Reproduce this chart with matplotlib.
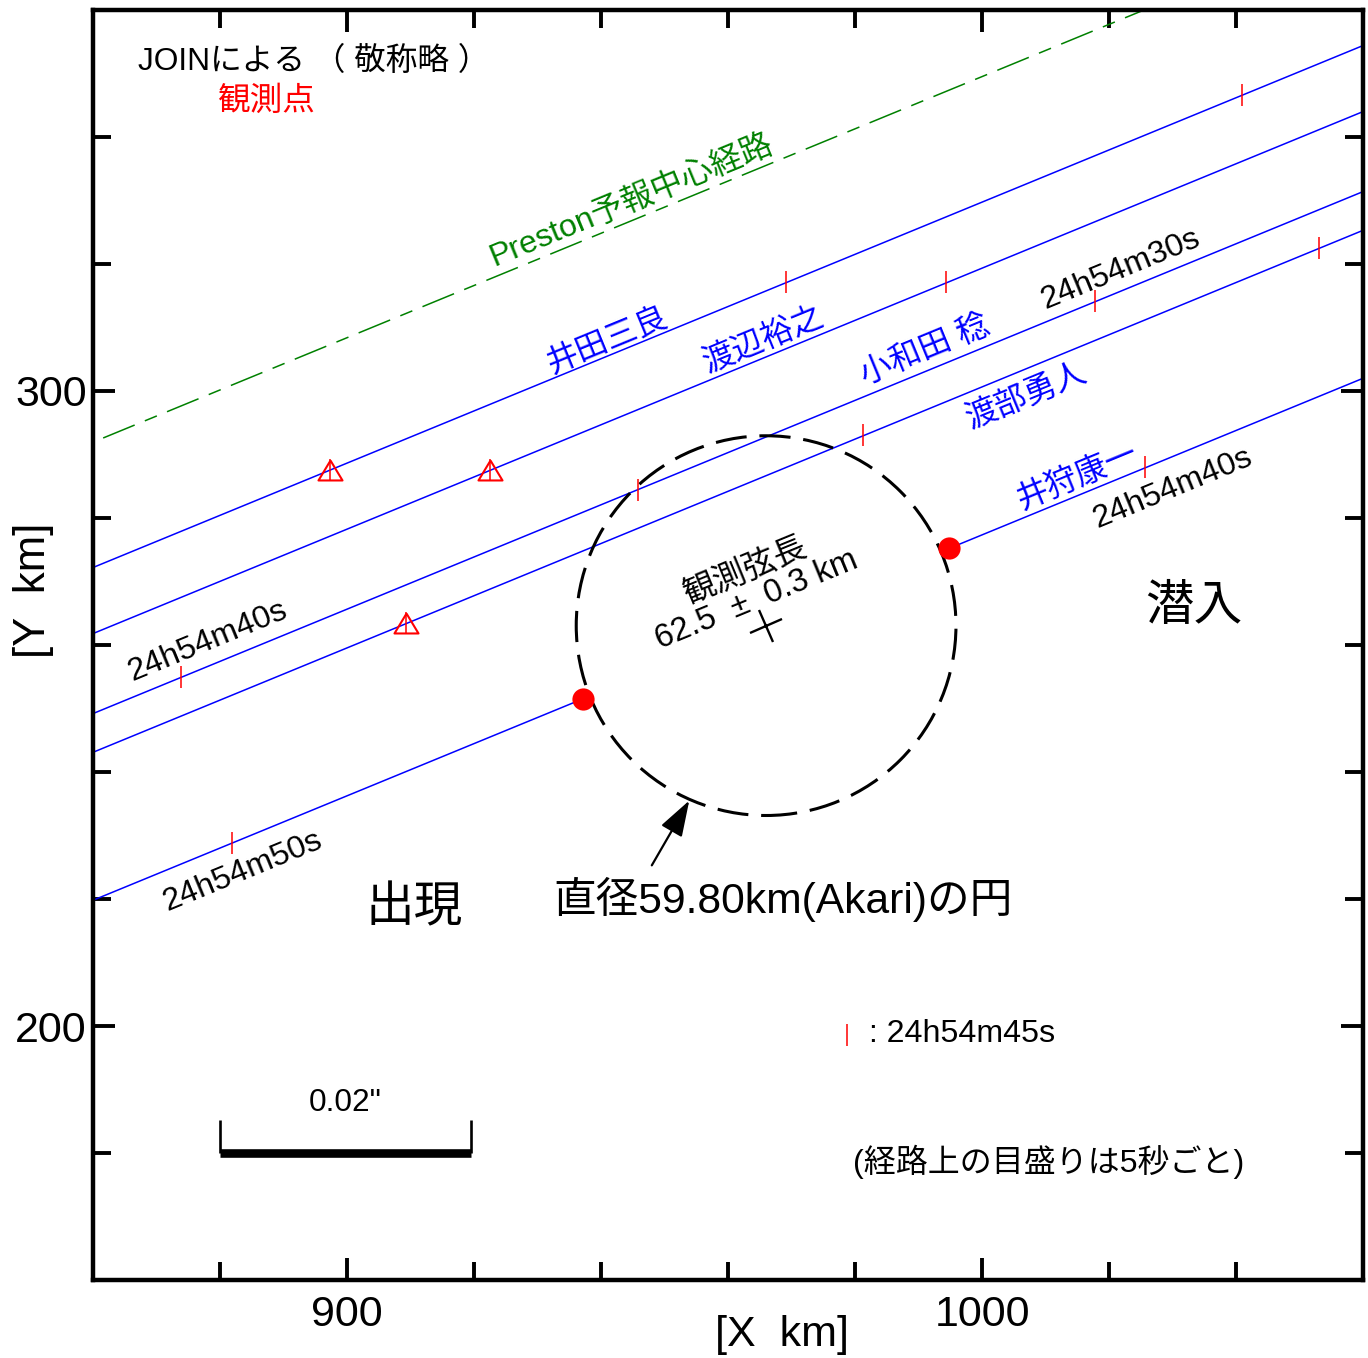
import matplotlib
matplotlib.use("Agg")
import matplotlib.pyplot as plt
from matplotlib.patches import Circle
from matplotlib.markers import MarkerStyle
from matplotlib.transforms import Affine2D
from matplotlib.ticker import FixedLocator, MultipleLocator

FONTS = ["Liberation Sans", "Noto Sans CJK JP", "DejaVu Sans"]
plt.rcParams["font.family"] = FONTS

# ---------------- data ----------------
x_range = [860, 1060]
y_range = [160, 360]
xticks_major = [900, 1000]
yticks_major = [200, 300]
minor_step = 20

observers = ["井田三良", "渡辺裕之", "小和田 稔", "渡部勇人", "井狩康一"]
chord_x = [860, 1060]
chord_y_left = [272.2, 261.8, 249.2, 243.1, 219.8]
chord_y_right = [354.4, 344.0, 331.4, 325.3, 302.0]

# observed events on the 井狩 path (appearance / disappearance)
event_x = [937.1, 994.8]
event_y = [251.5, 275.2]

# Preston predicted centre line
preston_x = [861.6, 1026.0]
preston_y = [292.6, 360.2]

# 5-second marks along the paths
tick_x = [897.3, 969.2, 1040.9, 922.5, 994.3, 873.9, 945.75, 1017.8,
          909.3, 981.3, 1053.1, 881.9, 1025.6]
tick_y = [287.5, 317.1, 346.6, 287.5, 317.1, 254.9, 284.4, 314.1,
          263.4, 293.0, 322.5, 228.8, 288.0]
# marks flagged with triangles
tri_x = [897.3, 922.5, 909.3]
tri_y = [287.5, 287.5, 263.4]

circle_center = (966.0, 263.05)
circle_diameter = 59.80
chord_length = 62.5
chord_err = 0.3

scale_bar_x = [880.0, 919.5]
scale_bar_y = 180.0
scale_bar_tick_top = 185.2
legend_tick = (978.8, 198.6)
arrow_tail = (948.0, 225.3)
arrow_head = (953.9, 235.5)

# ---------------- figure ----------------
W, H = 1368, 1358
fig = plt.figure(figsize=(W / 100, H / 100), dpi=100)
ax = fig.add_axes([93 / W, 1 - 1280 / H, 1270 / W, 1270 / H])
ax.set_xlim(*x_range)
ax.set_ylim(*y_range)

ANG = 22.35
BLUE = "#0000ff"
RED = "#ff0000"
GREEN = "#008000"

# chords
for i, (yl, yr) in enumerate(zip(chord_y_left, chord_y_right)):
    if i == len(chord_y_left) - 1:
        ax.plot([chord_x[0], event_x[0]], [yl, event_y[0]], color=BLUE, lw=1.1, zorder=2)
        ax.plot([event_x[1], chord_x[1]], [event_y[1], yr], color=BLUE, lw=1.1, zorder=2)
    else:
        ax.plot(chord_x, [yl, yr], color=BLUE, lw=1.1, zorder=2)

# Preston line
ax.plot(preston_x, preston_y, color=GREEN, lw=1.1,
        linestyle=(0, (22.3, 7.2, 8.5, 7.2)), zorder=2)

# time marks
ax.plot(tick_x, tick_y, linestyle="none", marker="|", markersize=15.8,
        markeredgewidth=1.1, color=RED, zorder=4)
tri = [(0, 0.83), (-1, -0.83), (1, -0.83), (0, 0.83)]
ax.plot(tri_x, tri_y, linestyle="none", marker=tri, markersize=17.3,
        markerfacecolor="none", markeredgecolor=RED, markeredgewidth=1.5, zorder=4)

# event dots
ax.plot(event_x, event_y, linestyle="none", marker="o", markersize=16,
        color=RED, markeredgewidth=0, zorder=5)

# circle
circ = Circle(circle_center, circle_diameter / 2, fill=False, color="black",
              lw=2.2, linestyle=(0, (10.2, 4.2)), zorder=3)
ax.add_patch(circ)
plus = MarkerStyle("+", transform=Affine2D().rotate_deg(ANG))
ax.plot([circle_center[0]], [circle_center[1]], linestyle="none", marker=plus,
        markersize=25, markeredgewidth=1.7, color="black", zorder=5)

# arrow
ax.annotate("", xy=arrow_head, xytext=arrow_tail,
            arrowprops=dict(arrowstyle="-|>,head_length=0.6,head_width=0.2",
                            mutation_scale=37, lw=1.6, color="black",
                            shrinkA=0, shrinkB=0))

# scale bar
ax.plot(scale_bar_x, [scale_bar_y, scale_bar_y], color="black", lw=6.2,
        solid_capstyle="butt")
for sx in scale_bar_x:
    ax.plot([sx, sx], [scale_bar_y, scale_bar_tick_top], color="black", lw=1.9,
            solid_capstyle="butt")
ax.text(sum(scale_bar_x) / 2, 187.9, '0.02"', fontsize=22.8, ha="center", va="center")

# legend tick
ax.plot([legend_tick[0]], [legend_tick[1]], linestyle="none", marker="|",
        markersize=15.8, markeredgewidth=1.1, color=RED)
ax.text(982.2, 198.7, ": 24h54m45s", fontsize=23.1, ha="left", va="center")
ax.text(1010.5, 178.6, "(経路上の目盛りは5秒ごと)", fontsize=23, ha="center", va="center")

# rotated labels
rot = dict(rotation=ANG, rotation_mode="anchor", ha="center", va="center")
ax.text(944.8, 329.9, "Preston予報中心経路", color=GREEN, fontsize=23.1, **rot)
name_pos = [(940.9, 307.9), (965.7, 308.0), (991.0, 306.3), (1007.1, 299.2), (1014.9, 286.5)]
for name, (px, py) in zip(observers, name_pos):
    ax.text(px, py, name, color=BLUE, fontsize=23, **rot)

ax.text(1021.9, 319.2, "24h54m30s", fontsize=23.3, **rot)
ax.text(1030.0, 284.6, "24h54m40s", fontsize=23.3, **rot)
ax.text(878.1, 260.5, "24h54m40s", fontsize=23.3, **rot)
ax.text(883.6, 224.4, "24h54m50s", fontsize=23.3, **rot)
ax.text(963.6, 269.4, f"観測弦長\n{chord_length}  ±  {chord_err} km", fontsize=23.5,
        linespacing=1.0, multialignment="center", **rot)

# plain labels
ax.text(867.1, 351.8, "JOINによる （ 敬称略 ）", fontsize=22.8, ha="left", va="center")
ax.text(887.3, 345.6, "観測点", color=RED, fontsize=23.5, ha="center", va="center")
ax.text(1033.3, 265.9, "潜入", fontsize=35, ha="center", va="center")
ax.text(910.5, 218.4, "出現", fontsize=35, ha="center", va="center")
ax.text(968.6, 220.0, "直径59.80km(Akari)の円", fontsize=30.7, ha="center", va="center")

# axes styling
ax.xaxis.set_major_locator(FixedLocator(xticks_major))
ax.yaxis.set_major_locator(FixedLocator(yticks_major))
ax.xaxis.set_minor_locator(MultipleLocator(minor_step))
ax.yaxis.set_minor_locator(MultipleLocator(minor_step))
ax.tick_params(which="both", direction="in", top=True, right=True, width=2.8)
ax.tick_params(which="major", length=15.6, labelsize=31)
ax.tick_params(which="minor", length=12.7)
ax.tick_params(axis="x", which="major", pad=10.5)
ax.tick_params(axis="y", which="major", pad=4.5)
for sp in ax.spines.values():
    sp.set_linewidth(3.2)

fig.text(782 / W, 1 - 1335 / H, "[X  km]", fontsize=31, ha="center", va="center")
fig.text(33 / W, 1 - 590 / H, "[Y  km]", fontsize=31.5, ha="center", va="center",
         rotation=90)

fig.savefig("out.png", dpi=100)
